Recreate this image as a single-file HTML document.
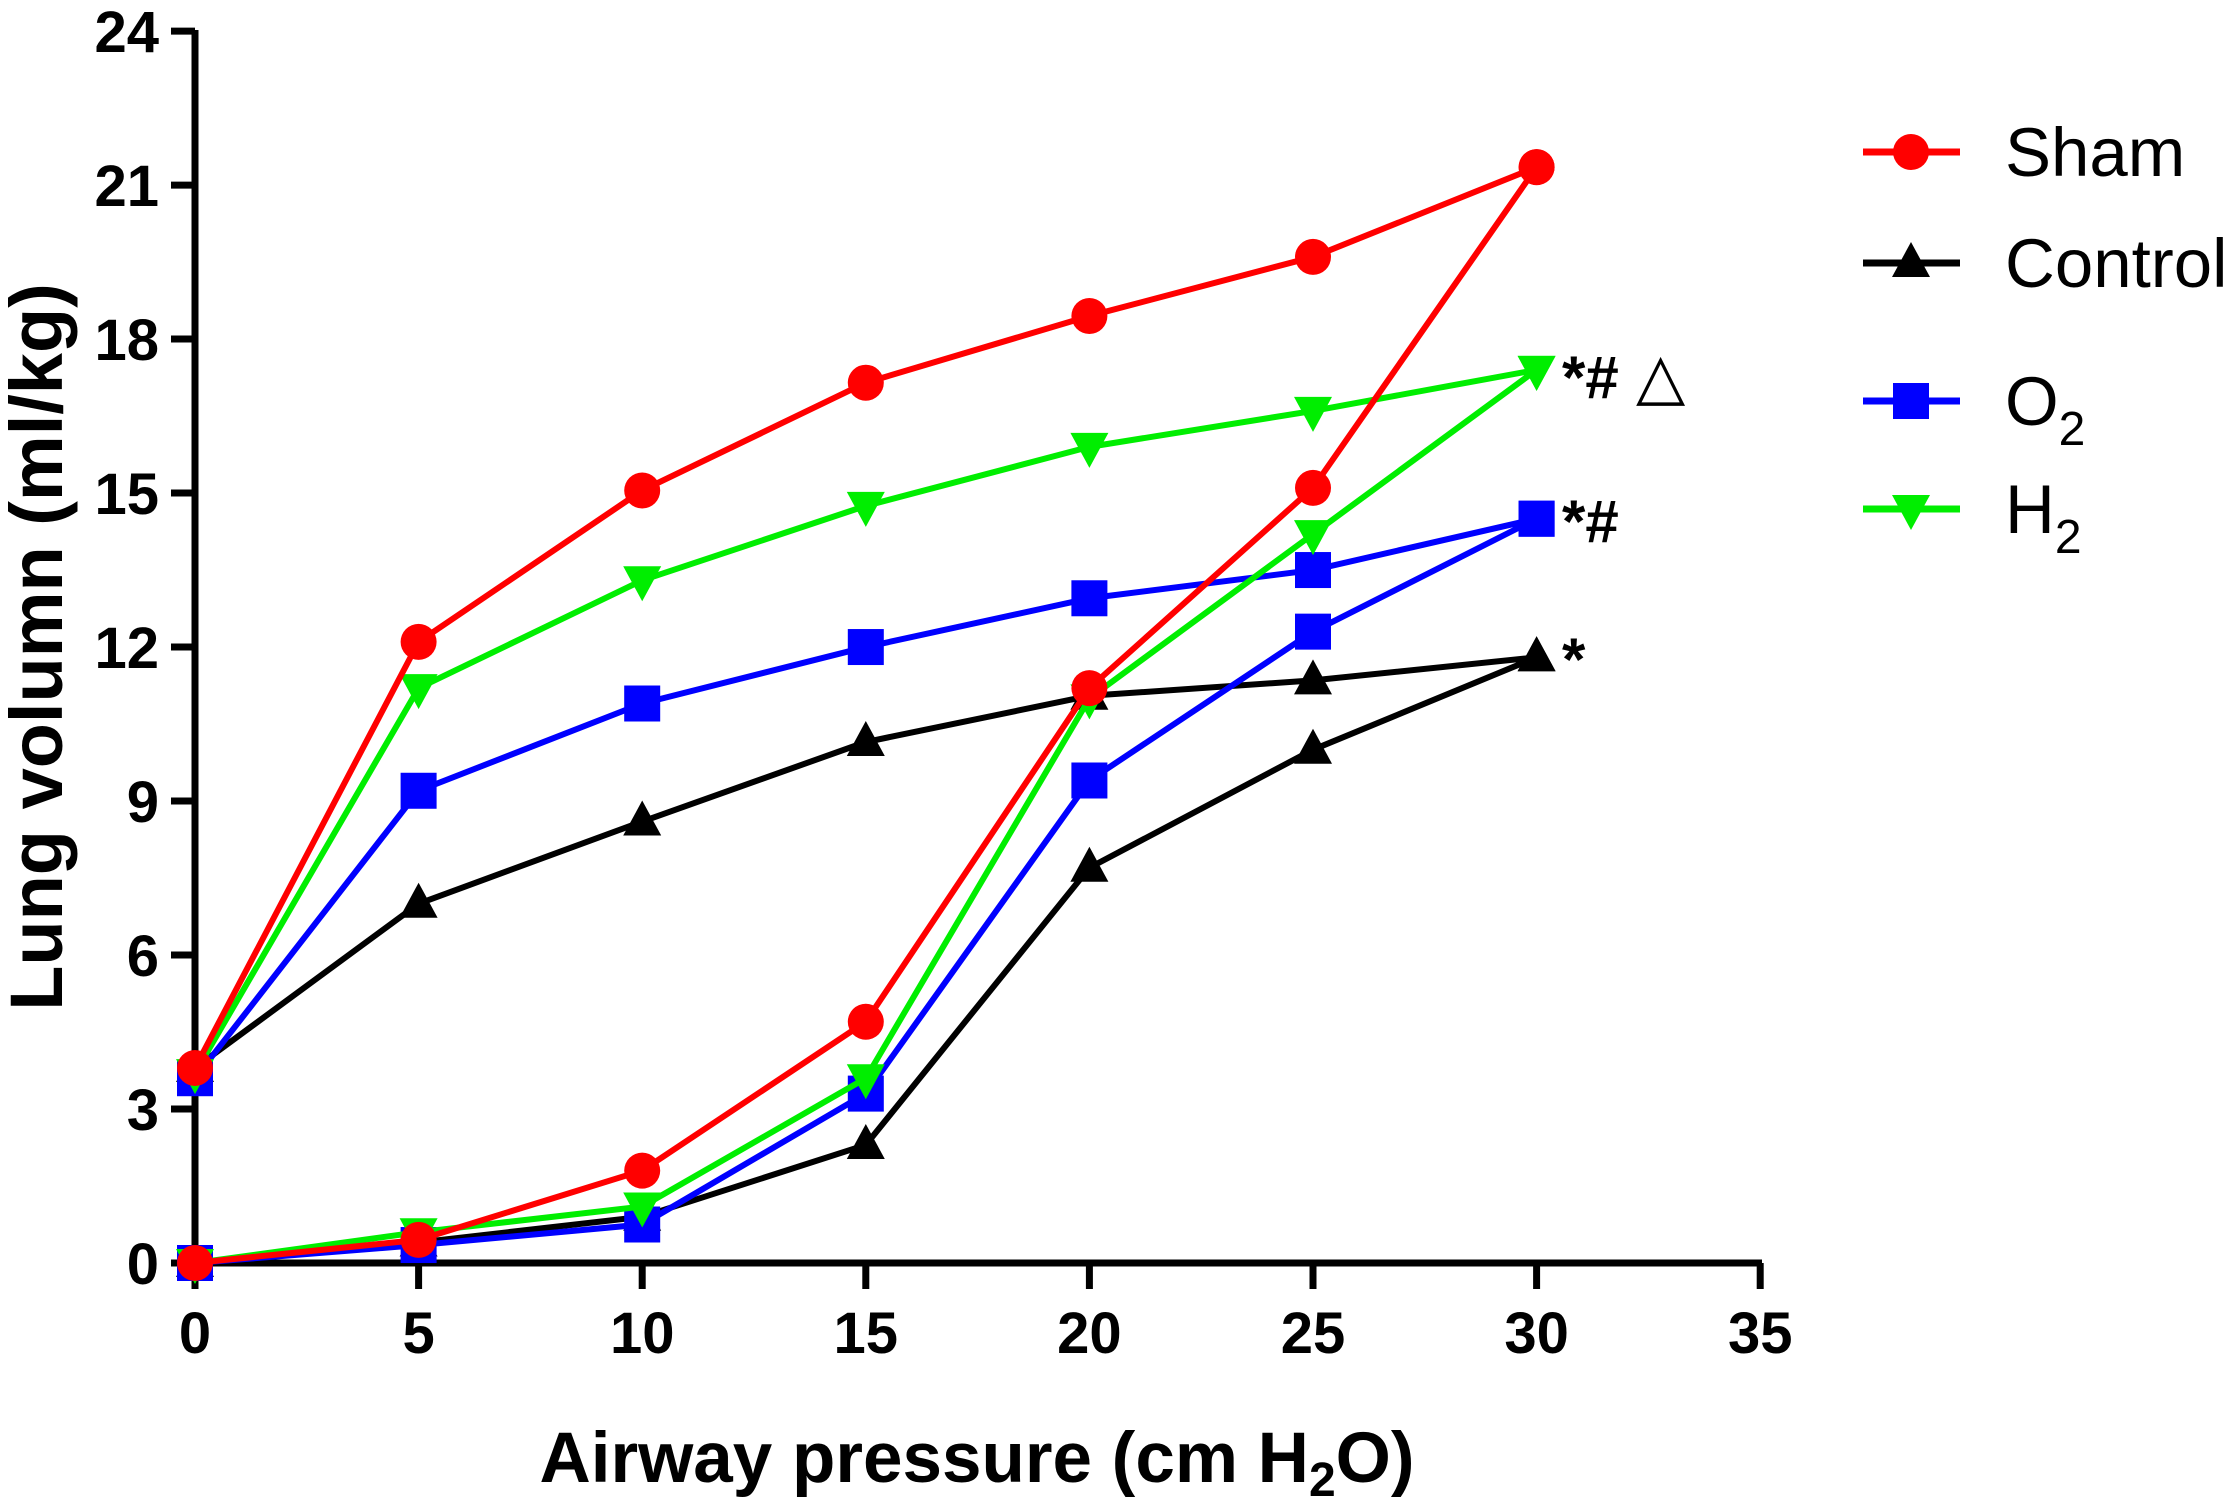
<!DOCTYPE html>
<html><head><meta charset="utf-8"><style>
html,body{margin:0;padding:0;background:#fff;}
svg{display:block;}
text{font-family:"Liberation Sans",Arial,sans-serif;}
</style></head><body>
<svg id="s" width="2230" height="1506" viewBox="0 0 2230 1506" xmlns="http://www.w3.org/2000/svg">
<g id="g"></g>
</svg>
<script>
const X0=195,Y0=1263,PX=223.6/5,PY=51.33;
const fx=v=>X0+v*PX, fy=v=>Y0-v*PY;
const xs=[0,5,10,15,20,25,30];
const S={
 ctrl:{c:'#000',m:'tri',u:[3.8,7.0,8.6,10.15,11.05,11.35,11.8],l:[0,0.4,0.9,2.3,7.7,10.0,11.8]},
 o2:{c:'#0000ff',m:'sq',u:[3.6,9.2,10.9,12.0,12.95,13.5,14.5],l:[0,0.35,0.75,3.3,9.4,12.3,14.5]},
 h2:{c:'#00ee00',m:'dtri',u:[3.7,11.2,13.3,14.75,15.9,16.6,17.4],l:[0,0.6,1.1,3.6,11.0,14.2,17.4]},
 sham:{c:'#ff0000',m:'circ',u:[3.8,12.1,15.05,17.15,18.45,19.6,21.35],l:[0,0.45,1.8,4.7,11.2,15.1,21.35]}
};
function mk(t,x,y,c){
 if(t=='circ')return `<circle cx="${x}" cy="${y}" r="18" fill="${c}"/>`;
 if(t=='sq')return `<rect x="${x-18}" y="${y-18}" width="36" height="36" fill="${c}"/>`;
 if(t=='tri')return `<polygon points="${x},${y-21} ${x-19},${y+14} ${x+19},${y+14}" fill="${c}"/>`;
 return `<polygon points="${x},${y+21} ${x-19},${y-14} ${x+19},${y-14}" fill="${c}"/>`;
}
let h='';
h+=`<path d="M${X0},30 V${Y0} H1762" stroke="#000" stroke-width="7" fill="none"/>`;
for(let v=0;v<=24;v+=3){let y=fy(v);h+=`<line x1="${X0-24}" y1="${y}" x2="${X0}" y2="${y}" stroke="#000" stroke-width="7"/>`;
 h+=`<text x="${X0-36}" y="${y+21}" font-size="58" font-weight="bold" text-anchor="end">${v}</text>`;}
for(let v=0;v<=35;v+=5){let x=fx(v);h+=`<line x1="${x}" y1="${Y0}" x2="${x}" y2="${Y0+26}" stroke="#000" stroke-width="7"/>`;
 h+=`<text x="${x}" y="${Y0+90}" font-size="58" font-weight="bold" text-anchor="middle">${v}</text>`;}
h+=`<text x="977" y="1482" font-size="71" font-weight="bold" text-anchor="middle">Airway pressure (cm H<tspan font-size="48" dy="14">2</tspan><tspan dy="-14">O)</tspan></text>`;
h+=`<text transform="translate(62,647) rotate(-90)" font-size="74" font-weight="bold" text-anchor="middle">Lung volumn (ml/kg)</text>`;
for(const k of ['ctrl','o2','h2','sham']){const s=S[k];
 const pts=[...xs.map((x,i)=>[fx(x),fy(s.l[i])]),...xs.slice().reverse().map((x,i)=>[fx(x),fy(s.u[6-i])])];
 h+=`<polyline points="${pts.map(p=>p.join(',')).join(' ')}" fill="none" stroke="${s.c}" stroke-width="6" stroke-linejoin="round"/>`;
 pts.forEach(p=>h+=mk(s.m,p[0],p[1],s.c));
}
h+=`<text x="1562" y="398" font-size="60" font-weight="bold">*#</text><text x="1636" y="398" font-size="64">△</text>`;
h+=`<text x="1562" y="542" font-size="60" font-weight="bold">*#</text>`;
h+=`<text x="1562" y="680" font-size="60" font-weight="bold">*</text>`;
const L=[['sham',152,'Sham'],['ctrl',263,'Control'],['o2',401,'O'],['h2',509,'H']];
L.forEach(([k,y,t])=>{const s=S[k];h+=`<line x1="1863" y1="${y}" x2="1960" y2="${y}" stroke="${s.c}" stroke-width="7"/>`+mk(s.m,1911,y,s.c);
 h+=`<text x="2005" y="${y+24}" font-size="69">${t}${(k=='o2'||k=='h2')?'<tspan font-size="48" dy="20">2</tspan>':''}</text>`;});
document.getElementById('g').innerHTML=h;
</script>
</body></html>
